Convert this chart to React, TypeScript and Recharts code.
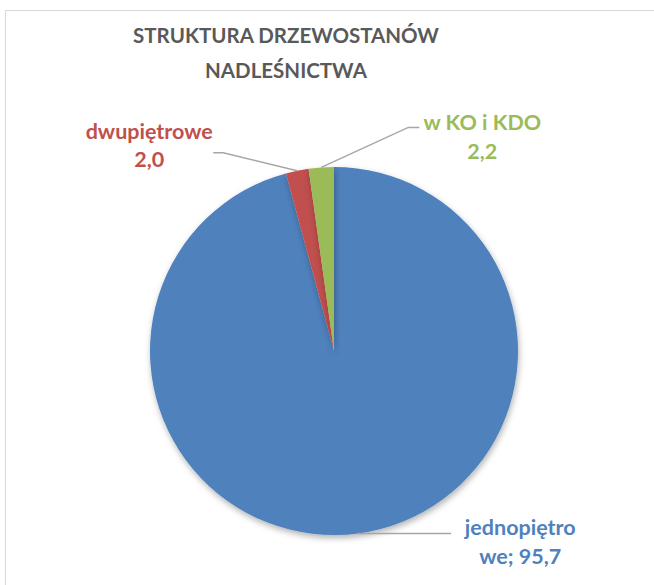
import React from 'react';
import { PieChart, Pie, Cell } from 'recharts';

const categories = ['jednopiętrowe', 'dwupiętrowe', 'w KO i KDO'];
const values = [95.7, 2.0, 2.2];
const labelLines = [
  ['jednopiętro', 'we; 95,7'],
  ['dwupiętrowe', '2,0'],
  ['w KO i KDO', '2,2'],
];

const COLORS = ['#4F81BD', '#C0504D', '#9BBB59'];
const FONT = 'Lato, "Open Sans", sans-serif';

// leader line layout per slice: elbow relative to edge point, horizontal run, text offset from line end
const LAYOUT = [
  { elbowDx: 0, elbowDy: 0, run: 93, textDx: 69, textDy: -6 },
  { elbowDx: -74, elbowDy: -18, run: -10, textDx: -64, textDy: -22 },
  { elbowDx: 87, elbowDy: -40, run: 11, textDx: 63, textDy: -5 },
];

const data = categories.map((name, i) => ({ name, value: values[i] }));

const RADIAN = Math.PI / 180;

function renderLabel(props: any) {
  const { cx, cy, midAngle, outerRadius, index } = props;
  const cfg = LAYOUT[index];
  const sx = cx + outerRadius * Math.cos(-midAngle * RADIAN);
  const sy = cy + outerRadius * Math.sin(-midAngle * RADIAN);
  const ex = sx + cfg.elbowDx;
  const ey = sy + cfg.elbowDy;
  const fx = ex + cfg.run;
  const tx = fx + cfg.textDx;
  const ty = ey + cfg.textDy;
  const lines = labelLines[index];
  return (
    <g key={`lbl-${index}`}>
      <polyline
        points={`${sx},${sy} ${ex},${ey} ${fx},${ey}`}
        fill="none"
        stroke="#A6A6A6"
        strokeWidth={1.5}
      />
      {lines.map((t, j) => (
        <text
          key={j}
          x={tx}
          y={ty + j * 28.5}
          textAnchor="middle"
          dominantBaseline="central"
          fill={COLORS[index]}
          fontFamily={FONT}
          fontWeight={700}
          fontSize={21.5}
        >
          {t}
        </text>
      ))}
    </g>
  );
}

export default function App() {
  return (
    <div
      style={{
        position: 'fixed',
        left: 0,
        top: 0,
        width: 654,
        height: 585,
        overflow: 'hidden',
        background: '#fff',
      }}
    >
      <div
        style={{
          position: 'absolute',
          left: 5,
          top: 10,
          width: 700,
          height: 700,
          border: '1.5px solid #D9D9D9',
        }}
      />
      <div
        style={{
          position: 'absolute',
          left: 86,
          width: 400,
          top: 18,
          textAlign: 'center',
          fontFamily: FONT,
          fontWeight: 700,
          fontSize: 20.5,
          lineHeight: '35px',
          color: '#595959',
        }}
      >
        STRUKTURA DRZEWOSTANÓW
        <br />
        NADLEŚNICTWA
      </div>
      <div style={{ position: 'absolute', left: 0, top: 0 }}>
        <PieChart width={654} height={585} margin={{ top: 0, right: 0, bottom: 0, left: 0 }}>
          <defs>
            <filter id="pieShadow" x="-20%" y="-20%" width="140%" height="140%">
              <feDropShadow dx="1" dy="3" stdDeviation="3" floodColor="#000" floodOpacity="0.3" />
            </filter>
          </defs>
          <Pie
            data={data}
            dataKey="value"
            nameKey="name"
            cx={334}
            cy={351}
            outerRadius={184}
            startAngle={90}
            endAngle={-270}
            stroke="none"
            label={renderLabel}
            labelLine={false}
            isAnimationActive={false}
          >
            {data.map((d, i) => (
              <Cell key={d.name} fill={COLORS[i]} filter="url(#pieShadow)" />
            ))}
          </Pie>
        </PieChart>
      </div>
    </div>
  );
}
